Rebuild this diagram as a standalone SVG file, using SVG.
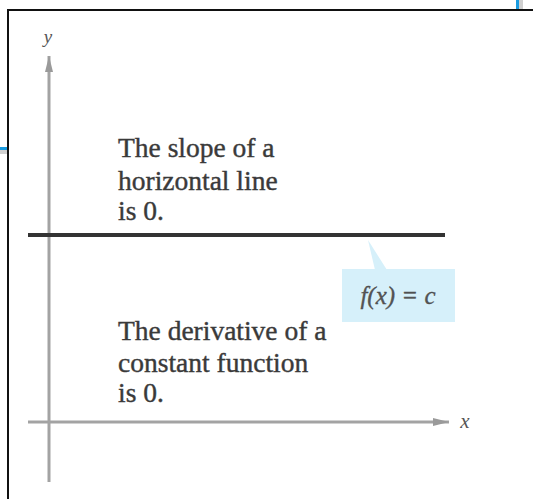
<svg xmlns="http://www.w3.org/2000/svg" width="533" height="499" viewBox="0 0 533 499">
<style>
.txt{font-family:"Liberation Serif","Times New Roman",serif;font-size:27.5px;fill:#3a3a3a;stroke:#3a3a3a;stroke-width:0.4}
.lbl{font-family:"Liberation Serif","Times New Roman",serif;font-style:italic;fill:#555}
.axis{stroke:#a3a3a3;stroke-width:3;fill:none}
</style>
<defs>
<marker id="ah2" viewBox="0 0 16 8" refX="16" refY="4" markerWidth="16" markerHeight="8" markerUnits="userSpaceOnUse" orient="auto">
<path d="M0,0 L16,4 L0,8 z" fill="#9a9a9a"/>
</marker>
</defs>
<rect width="533" height="499" fill="#fff"/>
<g id="artifacts">
<rect x="516" y="0" width="3" height="9" fill="#1a9be0"/>
<rect x="519" y="0" width="4" height="9" fill="#d0d0d0"/>
<rect x="0" y="147" width="7" height="3" fill="#1a9be0"/>
<rect x="0" y="150" width="7" height="4" fill="#d0d0d0"/>
</g>
<g id="frame">
<path d="M8,499 V10 H533" stroke="#111" stroke-width="2" fill="none"/>
</g>
<g id="connectors">
<line class="axis" x1="49" y1="482" x2="49" y2="56" marker-end="url(#ah2)"/>
<line class="axis" x1="28" y1="422" x2="449" y2="422" marker-end="url(#ah2)"/>
</g>
<g id="axis-labels">
<text class="lbl" x="48" y="43" font-size="19" text-anchor="middle">y</text>
<text class="lbl" x="465" y="428" font-size="21" text-anchor="middle">x</text>
</g>
<g id="line">
<line x1="28" y1="235" x2="445" y2="235" stroke="#333" stroke-width="4"/>
</g>
<g id="callout">
<polygon points="368,240 375,270 387,270" fill="#d6f0fa"/>
<rect x="342" y="269" width="113" height="53" fill="#d6f0fa"/>
<text class="lbl" x="398" y="304" font-size="25" text-anchor="middle" fill="#444" stroke="#444" stroke-width="0.3">f(x) = c</text>
</g>
<g id="text-top">
<text class="txt" x="118" y="157">The slope of a</text>
<text class="txt" x="118" y="190">horizontal line</text>
<text class="txt" x="118" y="220">is 0.</text>
</g>
<g id="text-bottom">
<text class="txt" x="118" y="340">The derivative of a</text>
<text class="txt" x="118" y="372">constant function</text>
<text class="txt" x="118" y="402">is 0.</text>
</g>
</svg>
